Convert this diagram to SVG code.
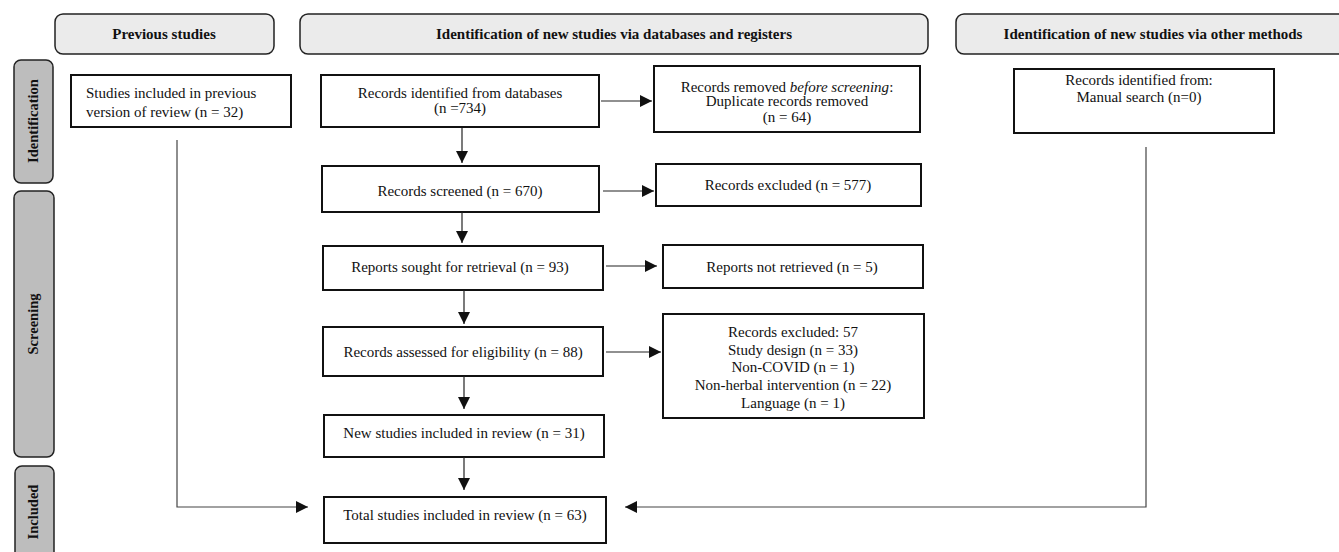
<svg xmlns="http://www.w3.org/2000/svg" width="1339" height="552" viewBox="0 0 1339 552">
<defs>
<style>
.hdr{fill:#ebebeb;stroke:#222;stroke-width:1.5}
.side{fill:#bdbdbd;stroke:#222;stroke-width:1.5}
.box{fill:#fff;stroke:#111;stroke-width:2}
.ht{font-family:"Liberation Serif",serif;font-weight:bold;font-size:15px;fill:#111;text-anchor:middle}
.st{font-family:"Liberation Serif",serif;font-weight:bold;font-size:14.5px;fill:#111;text-anchor:middle}
.t{font-family:"Liberation Serif",serif;font-size:15px;fill:#111;text-anchor:middle}
.tl{font-family:"Liberation Serif",serif;font-size:15px;fill:#111}
.c{fill:none;stroke:#222;stroke-width:1.2}
.cg{fill:none;stroke:#444;stroke-width:1.2}
</style>
<marker id="ah" viewBox="0 0 12 12" refX="12" refY="6" markerWidth="12" markerHeight="12" markerUnits="userSpaceOnUse" orient="auto">
<path d="M0,0 L12,6 L0,12 z" fill="#111"/>
</marker>
</defs>
<rect width="1339" height="552" fill="#fff"/>

<g id="hdr-previous"><rect class="hdr" x="55" y="14" width="219" height="40" rx="8"/><text class="ht" x="164" y="39">Previous studies</text></g>
<g id="hdr-databases"><rect class="hdr" x="300" y="14" width="628" height="40" rx="8"/><text class="ht" x="614" y="39">Identification of new studies via databases and registers</text></g>
<g id="hdr-other"><rect class="hdr" x="956" y="14" width="395" height="40" rx="8"/><text class="ht" x="1153" y="39">Identification of new studies via other methods</text></g>

<g id="side-identification"><rect class="side" x="14" y="60" width="39" height="123" rx="7"/><text class="st" transform="translate(38,121) rotate(-90)">Identification</text></g>
<g id="side-screening"><rect class="side" x="14" y="191" width="40" height="266" rx="7"/><text class="st" transform="translate(38,324) rotate(-90)">Screening</text></g>
<g id="side-included"><rect class="side" x="15" y="466" width="39" height="100" rx="7"/><text class="st" transform="translate(38,512) rotate(-90)">Included</text></g>

<g id="n-previous"><rect class="box" x="71" y="75" width="220" height="52"/><text class="tl" x="86" y="98">Studies included in previous</text><text class="tl" x="86" y="117">version of review (n = 32)</text></g>
<g id="n-identified"><rect class="box" x="321" y="75" width="278" height="52"/><text class="t" x="460" y="98">Records identified from databases</text><text class="t" x="460" y="113">(n =734)</text></g>
<g id="n-removed"><rect class="box" x="654" y="66" width="266" height="66"/><text class="t" x="787" y="92">Records removed <tspan font-style="italic">before screening</tspan>:</text><text class="t" x="787" y="106">Duplicate records removed</text><text class="t" x="787" y="122">(n = 64)</text></g>
<g id="n-manual"><rect class="box" x="1014" y="69" width="260" height="64"/><text class="t" x="1139" y="85">Records identified from:</text><text class="t" x="1139" y="102">Manual search (n=0)</text></g>
<g id="n-screened"><rect class="box" x="322" y="166" width="277" height="46"/><text class="t" x="460" y="196">Records screened (n = 670)</text></g>
<g id="n-excluded"><rect class="box" x="656" y="164" width="265" height="42"/><text class="t" x="788" y="190">Records excluded (n = 577)</text></g>
<g id="n-sought"><rect class="box" x="323" y="246" width="280" height="44"/><text class="t" x="460" y="272">Reports sought for retrieval (n = 93)</text></g>
<g id="n-notretrieved"><rect class="box" x="663" y="245" width="260" height="43"/><text class="t" x="792" y="272">Reports not retrieved (n = 5)</text></g>
<g id="n-assessed"><rect class="box" x="323" y="327" width="280" height="49"/><text class="t" x="463" y="357">Records assessed for eligibility (n = 88)</text></g>
<g id="n-excluded57"><rect class="box" x="663" y="314" width="261" height="104"/><text class="t" x="793" y="337">Records excluded: 57</text><text class="t" x="793" y="355">Study design (n = 33)</text><text class="t" x="793" y="372">Non-COVID (n = 1)</text><text class="t" x="793" y="390">Non-herbal intervention (n = 22)</text><text class="t" x="793" y="408">Language (n = 1)</text></g>
<g id="n-new"><rect class="box" x="324" y="415" width="280" height="42"/><text class="t" x="464" y="438">New studies included in review (n = 31)</text></g>
<g id="n-total"><rect class="box" x="324" y="497" width="282" height="46"/><text class="t" x="465" y="520">Total studies included in review (n = 63)</text></g>

<g id="connectors">
<line class="c" x1="601" y1="101" x2="652" y2="101" marker-end="url(#ah)"/>
<line class="c" x1="462" y1="128" x2="462" y2="163" marker-end="url(#ah)"/>
<line class="c" x1="603" y1="191" x2="654" y2="191" marker-end="url(#ah)"/>
<line class="c" x1="462" y1="212" x2="462" y2="243" marker-end="url(#ah)"/>
<line class="c" x1="606" y1="266" x2="657" y2="266" marker-end="url(#ah)"/>
<line class="c" x1="464" y1="290" x2="464" y2="324" marker-end="url(#ah)"/>
<line class="c" x1="606" y1="352" x2="661" y2="352" marker-end="url(#ah)"/>
<line class="c" x1="464" y1="376" x2="464" y2="409" marker-end="url(#ah)"/>
<line class="c" x1="464" y1="457" x2="464" y2="490" marker-end="url(#ah)"/>
<polyline class="cg" points="177,140 177,507 308,507" marker-end="url(#ah)"/>
<polyline class="cg" points="1146,147 1146,507 625,507" marker-end="url(#ah)"/>
</g>
</svg>
